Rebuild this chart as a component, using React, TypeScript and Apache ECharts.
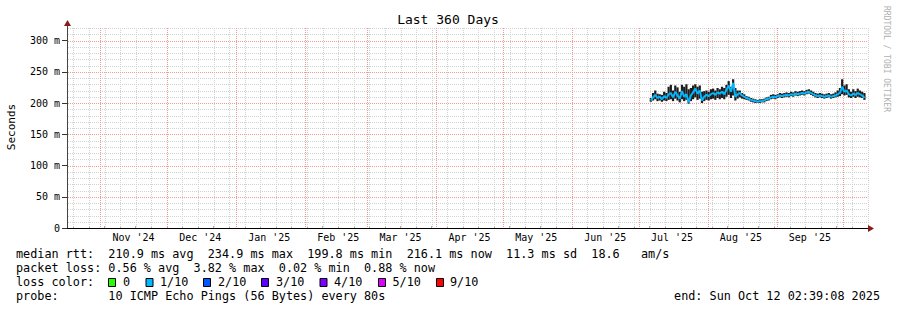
import React, { useEffect, useRef } from "react";
import * as echarts from "echarts";

// ---- time range ----
const RANGE_START = Date.UTC(2024, 9, 17, 2, 39, 8);
const RANGE_END = Date.UTC(2025, 9, 12, 2, 39, 8);
const DATA_FIRST_DAY = Date.UTC(2025, 6, 6, 12, 0, 0);
const DAY = 86400000;
const Y_MAX = 320;

// ---- grid / tick values ----
const monthStarts = [
  "2024-11-01", "2024-12-01", "2025-01-01", "2025-02-01", "2025-03-01", "2025-04-01",
  "2025-05-01", "2025-06-01", "2025-07-01", "2025-08-01", "2025-09-01", "2025-10-01",
];
const monthLabelDates = [
  "2024-11-16", "2024-12-16", "2025-01-16", "2025-02-16", "2025-03-16", "2025-04-16",
  "2025-05-16", "2025-06-16", "2025-07-16", "2025-08-16", "2025-09-16",
];
const monthNames = ["Jan", "Feb", "Mar", "Apr", "May", "Jun", "Jul", "Aug", "Sep", "Oct", "Nov", "Dec"];
const firstSunday = "2024-10-20";
const yMajorTicks = [0, 50, 100, 150, 200, 250, 300];
const yMinorStep = 10;

// ---- series values (ms), one per day starting 2025-07-06 ----
const medianRtt = [
  204, 209, 213, 208, 210, 206, 211, 208, 214, 216, 209, 218, 212, 207, 219, 210, 214, 201, 212, 217,
  223, 215, 220, 204, 210, 213, 211, 214, 216, 213, 217, 215, 218, 214, 221, 228, 218, 232, 210, 214,
  216, 212, 210, 208, 207, 205, 204, 203, 202, 203, 203, 204, 206, 207, 209, 210, 209, 211, 212, 211,
  212, 213, 212, 214, 213, 215, 214, 215, 216, 215, 217, 218, 216, 214, 212, 211, 212, 211, 210, 211,
  212, 210, 211, 212, 214, 216, 226, 218, 220, 214, 212, 215, 213, 216, 214, 212, 208,
];
const smokeHigh = [
  208, 216, 220, 215, 214, 213, 218, 216, 226, 229, 220, 228, 225, 218, 229, 226, 230, 222, 224, 228,
  230, 226, 228, 218, 219, 220, 218, 222, 223, 220, 224, 222, 226, 224, 229, 235, 226, 238, 224, 220,
  220, 216, 214, 211, 210, 208, 207, 206, 205, 206, 206, 207, 209, 210, 213, 214, 213, 214, 216, 215,
  216, 217, 216, 218, 217, 219, 218, 219, 220, 219, 221, 222, 220, 218, 216, 215, 216, 215, 214, 215,
  216, 214, 215, 217, 220, 224, 238, 228, 230, 222, 218, 222, 219, 223, 220, 218, 216,
];
const smokeLow = [
  202, 204, 206, 203, 204, 202, 204, 203, 205, 206, 203, 207, 204, 201, 206, 203, 205, 199, 203, 206,
  209, 205, 207, 200, 203, 205, 204, 206, 207, 205, 208, 206, 208, 206, 210, 213, 208, 212, 204, 207,
  209, 207, 206, 205, 204, 202, 201, 200, 200, 200, 201, 201, 203, 204, 206, 207, 206, 208, 209, 208,
  209, 210, 209, 211, 210, 212, 211, 212, 213, 212, 214, 215, 213, 211, 209, 208, 209, 208, 207, 208,
  209, 207, 208, 209, 210, 211, 214, 212, 213, 209, 208, 210, 208, 210, 209, 208, 205,
];

// ---- legend texts ----
const legendRows = [
  "median rtt:  210.9 ms avg  234.9 ms max  199.8 ms min  216.1 ms now  11.3 ms sd  18.6   am/s",
  "packet loss: 0.56 % avg  3.82 % max  0.02 % min  0.88 % now",
  "loss color:",
  "probe:       10 ICMP Echo Pings (56 Bytes) every 80s",
];
const lossLabels = ["0", "1/10", "2/10", "3/10", "4/10", "5/10", "9/10"];
const lossColors = ["#26ff00", "#00b8ff", "#0059ff", "#5e00ff", "#7e00ff", "#dd00ff", "#ff0000"];
const lossSquareX = [108.5, 146, 203.5, 261.5, 320, 378.5, 436.5];
const lossTextX = [123, 160, 218, 276, 334, 392.5, 450];
const endText = "end: Sun Oct 12 02:39:08 2025";
const titleText = "Last 360 Days";

const MONO = '"DejaVu Sans Mono", monospace';
const GRID_GRAY = "#d2d2d2";
const GRID_RED = "#f29a9a";

function toUTC(s: string) {
  const [y, m, d] = s.split("-").map(Number);
  return Date.UTC(y, m - 1, d);
}

function vLineRender(color: string) {
  return (params: any, api: any) => {
    const t = api.value(0);
    const b = api.coord([t, 0]);
    const tp = api.coord([t, Y_MAX]);
    const x = Math.round(b[0]) + 0.5;
    return {
      type: "line",
      shape: { x1: x, y1: Math.round(tp[1]), x2: x, y2: Math.round(b[1]) },
      style: { stroke: color, lineWidth: 1, lineDash: [1, 1] },
      silent: true,
    };
  };
}
function hLineRender(color: string) {
  return (params: any, api: any) => {
    const v = api.value(1);
    const l = api.coord([RANGE_START, v]);
    const r = api.coord([RANGE_END, v]);
    const y = Math.round(l[1]) + 0.5;
    return {
      type: "line",
      shape: { x1: Math.round(l[0]) + 1, y1: y, x2: Math.round(r[0]), y2: y },
      style: { stroke: color, lineWidth: 1, lineDash: [1, 1] },
      silent: true,
    };
  };
}

export default function App() {
  const ref = useRef<HTMLDivElement>(null);
  useEffect(() => {
    if (!ref.current) return;
    const chart = echarts.init(ref.current, null, { renderer: "svg" });

    const days = medianRtt.map((_, i) => DATA_FIRST_DAY + i * DAY);
    const medianData = days.map((t, i) => [t, medianRtt[i]]);
    const smokeData = days.map((t, i) => [t, smokeLow[i], smokeHigh[i]]);

    const weekly: number[] = [];
    for (let t = toUTC(firstSunday); t < RANGE_END; t += 7 * DAY) weekly.push(t);
    const months = monthStarts.map(toUTC);
    const labelVals = monthLabelDates.map(toUTC);
    const yMinor: number[] = [];
    for (let v = yMinorStep; v <= Y_MAX; v += yMinorStep) if (v % 50 !== 0) yMinor.push(v);

    const graphics: any[] = [];
    graphics.push({
      type: "text", x: 448, y: 19,
      style: { text: titleText, fontSize: 13, fontFamily: MONO, fill: "#000", align: "center", verticalAlign: "middle" },
    });
    graphics.push({
      type: "text", x: 11, y: 127, rotation: Math.PI / 2,
      style: { text: "Seconds", fontSize: 11, fontFamily: MONO, fill: "#000", align: "center", verticalAlign: "middle" },
    });
    graphics.push({
      type: "text", x: 886, y: 59, rotation: -Math.PI / 2,
      style: { text: "RRDTOOL / TOBI OETIKER", fontSize: 8, fontFamily: MONO, fill: "#b0b0b0", align: "center", verticalAlign: "middle" },
    });
    legendRows.forEach((row, i) => {
      graphics.push({
        type: "text", x: 16, y: 254 + i * 14,
        style: { text: row, fontSize: 11.8, fontFamily: MONO, fill: "#000", align: "left", verticalAlign: "middle" },
      });
    });
    lossLabels.forEach((lab, i) => {
      graphics.push({
        type: "rect", shape: { x: lossSquareX[i], y: 278.5, width: 7, height: 8 },
        style: { fill: lossColors[i], stroke: "#000", lineWidth: 1 },
      });
      graphics.push({
        type: "text", x: lossTextX[i], y: 282,
        style: { text: lab, fontSize: 11.8, fontFamily: MONO, fill: "#000", align: "left", verticalAlign: "middle" },
      });
    });
    graphics.push({
      type: "text", x: 880, y: 296,
      style: { text: endText, fontSize: 11.8, fontFamily: MONO, fill: "#000", align: "right", verticalAlign: "middle" },
    });
    graphics.push({ type: "polygon", shape: { points: [[64, 26], [71, 26], [67.5, 20]] }, style: { fill: "#8b1a1a" }, z: 10 });
    graphics.push({ type: "polygon", shape: { points: [[868, 225], [868, 232], [874, 228.5]] }, style: { fill: "#8b1a1a" }, z: 10 });
    graphics.push({ type: "line", shape: { x1: 67.5, y1: 26, x2: 67.5, y2: 28 }, style: { stroke: "#444", lineWidth: 1 } });

    const option: any = {
      animation: false,
      backgroundColor: "#fff",
      grid: { left: 67, right: 29, top: 28, bottom: 82 },
      xAxis: {
        type: "value",
        min: RANGE_START,
        max: RANGE_END,
        axisLine: { show: true, lineStyle: { color: "#000", width: 1 } },
        axisTick: { show: true, inside: true, length: 2, customValues: weekly, lineStyle: { color: "#aaa" } },
        splitLine: { show: false },
        axisLabel: {
          customValues: labelVals,
          margin: 4,
          fontSize: 10,
          fontFamily: MONO,
          color: "#000",
          hideOverlap: false,
          formatter: (v: number) => {
            const d = new Date(v);
            return monthNames[d.getUTCMonth()] + " '" + String(d.getUTCFullYear()).slice(2);
          },
        },
      },
      yAxis: {
        type: "value",
        min: 0,
        max: Y_MAX,
        interval: 10,
        axisLine: { show: true, lineStyle: { color: "#444", width: 1 } },
        axisTick: { show: true, length: 5, customValues: yMajorTicks, lineStyle: { color: "#333" } },
        splitLine: { show: false },
        axisLabel: {
          margin: 7,
          fontSize: 10,
          fontFamily: MONO,
          color: "#000",
          formatter: (v: number) => (v % 50 === 0 ? (v === 0 ? "0" : v + " m") : ""),
        },
      },
      series: [
        {
          type: "custom", name: "weekGrid", silent: true, z: 1,
          data: weekly.map((t) => [t, 0]), encode: { x: 0, y: 1 },
          renderItem: vLineRender(GRID_GRAY),
        },
        {
          type: "custom", name: "minorGrid", silent: true, z: 1,
          data: yMinor.map((v) => [RANGE_START, v]), encode: { x: 0, y: 1 },
          renderItem: hLineRender(GRID_GRAY),
        },
        {
          type: "custom", name: "monthGrid", silent: true, z: 2,
          data: months.map((t) => [t, 0]), encode: { x: 0, y: 1 },
          renderItem: vLineRender(GRID_RED),
        },
        {
          type: "custom", name: "majorGrid", silent: true, z: 2,
          data: yMajorTicks.filter((v) => v > 0).map((v) => [RANGE_START, v]), encode: { x: 0, y: 1 },
          renderItem: hLineRender(GRID_RED),
        },
        {
          type: "custom",
          name: "smoke",
          z: 3,
          data: smokeData,
          encode: { x: 0, y: [1, 2] },
          renderItem: (params: any, api: any) => {
            const t = api.value(0);
            const lo = api.coord([t, api.value(1)]);
            const hi = api.coord([t, api.value(2)]);
            const w = api.size([DAY, 0])[0];
            return {
              type: "rect",
              shape: { x: lo[0] - w / 2, y: hi[1], width: w, height: lo[1] - hi[1] },
              style: { fill: "#1e1e1e" },
            };
          },
        },
        {
          type: "line",
          name: "median rtt",
          z: 4,
          data: medianData,
          showSymbol: false,
          symbol: "none",
          lineStyle: { color: "#00b8ff", width: 2 },
        },
      ],
      graphic: graphics,
    };
    chart.setOption(option);
    return () => chart.dispose();
  }, []);
  return (
    <div
      ref={ref}
      style={{ position: "absolute", left: 0, top: 0, width: 897, height: 310, background: "#fff" }}
    />
  );
}
